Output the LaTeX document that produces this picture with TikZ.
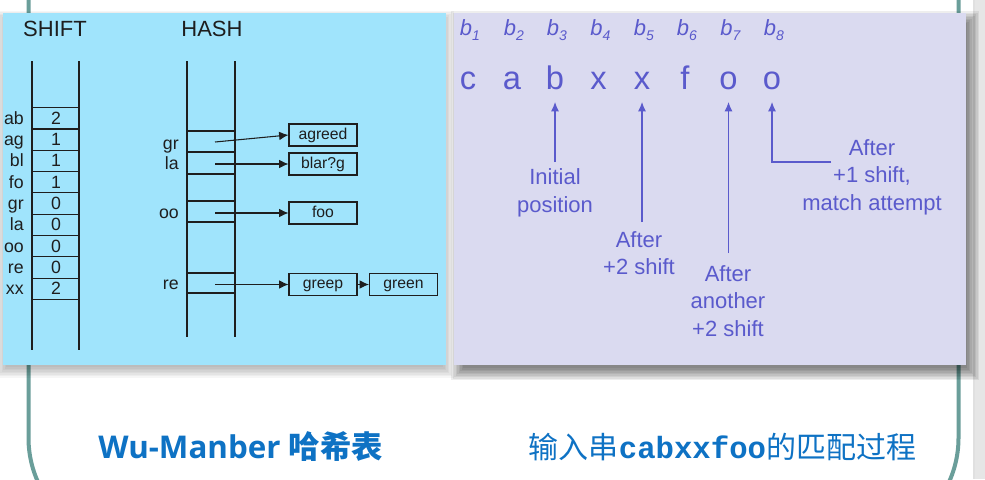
\documentclass[tikz,border=0pt]{standalone}
\usepackage{fontspec}
\setmainfont{Liberation Sans}
\newfontfamily\cjk{Noto Sans CJK SC}
\newfontfamily\opensans{Open Sans}
\newfontfamily\monof{Liberation Mono}
\usetikzlibrary{arrows.meta}
\definecolor{cyanbg}{HTML}{A0E4FC}
\definecolor{lavbg}{HTML}{DADAF0}
\definecolor{ink}{HTML}{5A5ACC}
\definecolor{framec}{HTML}{6A9E9A}
\definecolor{titleblue}{HTML}{0E72C4}
\definecolor{stripgray}{HTML}{E6E6E6}
\definecolor{dark}{HTML}{1E1E1E}
\begin{document}
\begin{tikzpicture}[x=0.75pt,y=-0.75pt,
  frameline/.style={draw=framec,line width=3pt},
  tabline/.style={draw=dark,line width=0.8pt},
  heading/.style={font=\fontsize{16.5}{18}\selectfont,text=dark,inner sep=0pt},
  keylbl/.style={font=\fontsize{13.3}{15}\selectfont,text=dark,inner sep=0pt,anchor=base east},
  vallbl/.style={font=\fontsize{13.3}{15}\selectfont,text=dark,inner sep=0pt,anchor=base},
  wordbox/.style={draw=dark,line width=0.8pt,minimum width=51pt,minimum height=16.5pt,inner sep=0pt,
    font=\fontsize{11.8}{13}\selectfont,text=dark,text height=8.4pt,text depth=2.4pt},
  harrow/.style={draw=dark,line width=0.8pt,-{Latex[length=7pt,width=6.5pt]}},
  letter/.style={font=\fontsize{24.5}{26}\selectfont,text=ink,inner sep=0pt,anchor=base},
  blbl/.style={font=\fontsize{16.5}{18}\selectfont\itshape,text=ink,inner sep=0pt,anchor=base},
  note/.style={font=\fontsize{16.5}{20.6}\selectfont,text=ink,align=center,inner sep=0pt},
  parrow/.style={draw=ink,line width=0.8pt,-{Latex[length=7pt,width=6pt]}},
  title/.style={text=titleblue,inner sep=0pt}]
\useasboundingbox (0,0) rectangle (985,479);
\clip (0,0) rectangle (985,479);
\fill[white] (0,0) rectangle (985,479);
\fill[stripgray] (973,0) rectangle (985,479);
\draw[draw=black!12,line width=1pt] (974,0) -- (974,479);
% frame lines
\draw[frameline] (28.5,-5) -- (28.5,438) arc[start angle=180,end angle=150,radius=107];
\draw[frameline] (958.5,-5) -- (958.5,438) arc[start angle=0,end angle=30,radius=107];
% shadows
\foreach \e in {-3,-1.5,...,7.5}
  \fill[black,opacity=0.035] (3-\e,18-\e) rectangle (446+\e,370+\e);
\foreach \e in {-4,-2.5,...,9}
  \fill[black,opacity=0.065] (459-\e,19-\e) rectangle (971+\e,372+\e);
% panels
\fill[cyanbg] (3,13) rectangle (446,365);
\fill[lavbg] (454,13) rectangle (966,365);

% ---------- left panel ----------
\node[heading] (shift) at (55,29) {SHIFT};
\node[heading] (hash) at (212,29) {HASH};
% shift table
\draw[tabline] (32,61) -- (32,350);
\draw[tabline] (79,61) -- (79,350);
\foreach \k in {0,...,9}
  \draw[tabline] (32,107.7+21.3*\k) -- (79,107.7+21.3*\k);
\foreach \lab/\val [count=\k from 0] in {ab/2,ag/1,bl/1,fo/1,gr/0,la/0,oo/0,re/0,xx/2}{
  \node[keylbl] (sk\k) at (24,118.3+21.3*\k+6) {\lab};
  \node[vallbl] (sv\k) at (56,118.3+21.3*\k+6) {\val};
}
% hash table
\draw[tabline] (187,61) -- (187,337);
\draw[tabline] (235,61) -- (235,337);
\foreach \yy in {131,152,174,201,222,273,293}
  \draw[tabline] (187,\yy) -- (235,\yy);
\node[keylbl] (hgr) at (179,149) {gr};
\node[keylbl] (hla) at (179,169) {la};
\node[keylbl] (hoo) at (179,218) {oo};
\node[keylbl] (hre) at (179,289) {re};
\node[wordbox] (agreed) at (323,135) {agreed};
\node[wordbox] (blarg) at (323,164) {blar?g};
\node[wordbox] (foo) at (323,213) {foo};
\node[wordbox] (greep) at (323,284.5) {greep};
\node[wordbox] (green) at (403.5,284.5) {green};
\coordinate (sgr) at (215,142);
\coordinate (sla) at (215,164);
\coordinate (soo) at (215,213);
\coordinate (sre) at (215,284.5);
\draw[harrow] (sgr) -- (agreed.west);
\draw[harrow] (sla) -- (blarg.west);
\draw[harrow] (soo) -- (foo.west);
\draw[harrow] (sre) -- (greep.west);
\draw[harrow] (greep.east) -- (green.west);

% ---------- right panel ----------
\foreach \ch/\xx [count=\i] in {c/468,a/512,b/555,x/598.5,x/642,f/685,o/728.5,o/772}{
  \node[letter] (l\i) at (\xx,89) {\ch};
  \node[blbl] (b\i) at (\xx+2,35) {b\raisebox{-0.45ex}{\fontsize{10.5}{11}\selectfont\itshape\i}};
}
\coordinate (h3) at (555,102);
\coordinate (h5) at (642,102);
\coordinate (h7) at (728.5,102);
\coordinate (h8) at (772,102);
\coordinate (t3) at (555,162);
\coordinate (t5) at (642,222);
\coordinate (t7) at (728.5,253);
\coordinate (t8) at (831,162);
\draw[parrow] (t3) -- (h3);
\draw[parrow] (t5) -- (h5);
\draw[parrow] (t7) -- (h7);
\draw[parrow] (t8) -| (h8);
\node[note] (n1) at (555,193) {Initial\\position};
\node[note] (n2) at (639,253) {After\\+2 shift};
\node[note] (n3) at (728,301) {After\\another\\+2 shift};
\node[note] (n4) at (872,177) {After\\+1 shift,\\match attempt};

% ---------- titles ----------
\node[title] (t1) at (240.5,447) {\fontsize{23.5}{25}\selectfont\opensans\bfseries Wu-Manber {\cjk\bfseries 哈希表}};
\node[title] (t2) at (722.5,447) {\fontsize{22.5}{24}\selectfont\cjk 输入串{\monof\bfseries\fontsize{23}{24}\selectfont cabxxfoo}的匹配过程};
\end{tikzpicture}
\end{document}
